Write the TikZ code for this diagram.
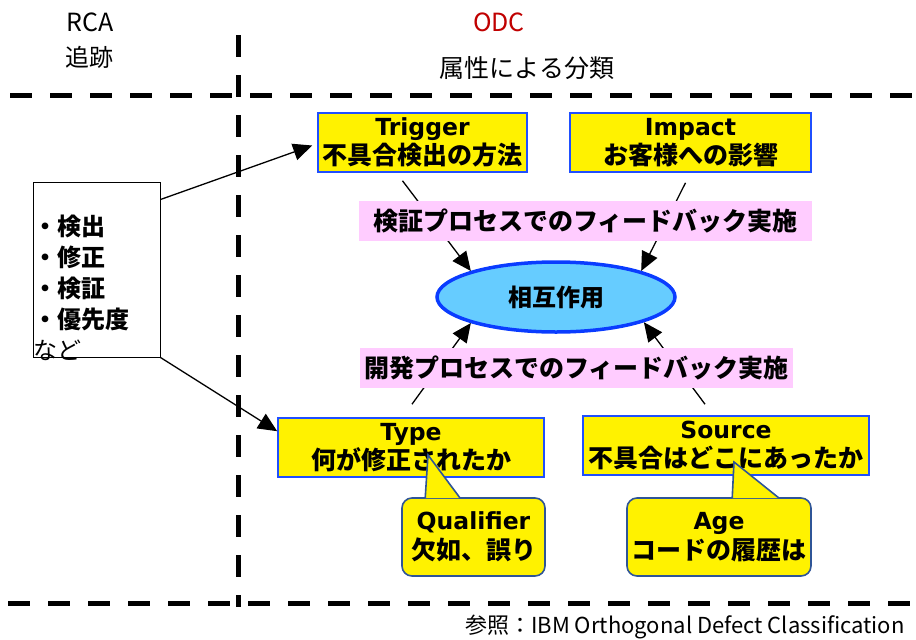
\documentclass[tikz,border=0pt]{standalone}
\usepackage{fontspec}
\setmainfont{Noto Sans CJK JP}
\newfontfamily\lat[Scale=0.94]{DejaVu Sans}
\usepackage{xcolor}
\usetikzlibrary{arrows.meta, shapes.geometric, positioning, calc}
\definecolor{boxblue}{HTML}{1F4FFF}
\definecolor{callblue}{HTML}{2F5597}
\definecolor{pinkbg}{HTML}{FFCCFF}
\definecolor{ellfill}{HTML}{66CCFF}
\definecolor{ellline}{HTML}{0A3CFF}
\definecolor{odcred}{HTML}{C00000}
\newcommand{\fs}[1]{\fontsize{#1}{#1}\selectfont}

\begin{document}
\begin{tikzpicture}[x=1pt, y=-1pt, >={Triangle[length=19pt, width=17pt]},
  attr/.style={draw=boxblue, line width=1.6pt, fill=yellow, align=center, inner sep=0pt,
    minimum height=59pt, font=\bfseries\fontsize{25}{29}\selectfont},
  pk/.style={fill=pinkbg, inner sep=0pt, minimum height=40pt, font=\bfseries\fs{25}},
  cb/.style={draw=callblue, line width=1.6pt, fill=yellow, rounded corners=10pt, align=center,
    inner sep=0pt, minimum height=78pt, font=\bfseries\fontsize{25}{30}\selectfont},
  dl/.style={line width=5pt, dash pattern=on 22pt off 18pt},
  ar/.style={->, line width=1.3pt}]
  \useasboundingbox (0,0) rectangle (916,640);

  \node[font=\fs{25}] (rca) at (90,22) {RCA};
  \node[font=\fs{24}] (trace) at (89,57) {追跡};
  \node[font=\fs{25}, text=odcred] (odc) at (499,22) {ODC};
  \node[font=\fs{25}] (cls) at (527,68) {属性による分類};

  \draw[dl] (10,95) -- (916,95);
  \draw[dl] (8,603) -- (916,603);
  \draw[dl] (238,35) -- (238,607);

  \node[attr, minimum width=209pt] (trig) at (422.5,142.5) {{\lat Trigger}\\不具合検出の方法};
  \node[attr, minimum width=241pt] (imp) at (690.5,142.5) {{\lat Impact}\\お客様への影響};
  \node[attr, minimum width=266pt] (typ) at (411,447.5) {{\lat Type}\\何が修正されたか};
  \node[attr, minimum width=286pt] (src) at (726,445.5) {{\lat Source}\\不具合はどこにあったか};
  \node[ellipse, draw=ellline, line width=3.5pt, fill=ellfill, minimum width=238pt,
    minimum height=70pt, font=\bfseries\fs{24}] (ell) at (556,297) {相互作用};

  \node[draw, line width=1pt, minimum width=127pt, minimum height=175pt, inner sep=0pt] (lb) at (96.5,269.5) {};
  \node[anchor=west, align=left, inner sep=0pt, font=\fontsize{24}{31}\selectfont] (lbt) at (33,288)
    {\textbf{・検出}\\\textbf{・修正}\\\textbf{・検証}\\\textbf{・優先度}\\など};

  \draw[ar] ($(lb.north east)+(0,18)$) -- ($(trig.west)+(-5,3)$);
  \draw[ar] (lb.south east) -- ($(typ.north west)+(0,14)$);
  \draw[ar] ($(trig.south)+(-20,8)$) -- (ell.163);
  \draw[ar] ($(imp.south)+(-5,10)$) -- (ell.17);
  \draw[ar] ($(typ.north)+(1,-13)$) -- (ell.197);
  \draw[ar] ($(src.north)+(-21,-11)$) -- (ell.344);

  \node[pk, minimum width=453pt] (vfb) at (585.5,221) {検証プロセスでのフィードバック実施};
  \node[pk, minimum width=433pt] (dfb) at (576.5,368) {開発プロセスでのフィードバック実施};

  \node[cb, minimum width=143pt] (qual) at (473.5,537) {{\lat Qualifier}\\欠如、誤り};
  \node[cb, minimum width=184pt] (age) at (719,537) {{\lat Age}\\コードの履歴は};
  \coordinate (qtip) at (428,455);
  \coordinate (atip) at (734,462);
  \filldraw[fill=yellow, draw=callblue, line width=1.6pt] ($(qual.north west)+(24,1)$) -- (qtip) -- ($(qual.north west)+(59,1)$);
  \filldraw[fill=yellow, draw=callblue, line width=1.6pt] ($(age.north west)+(106,1)$) -- (atip) -- ($(age.north west)+(153,1)$);

  \node[anchor=east, font=\fs{22}] (ref) at (908,627) {参照：IBM Orthogonal Defect Classification};
\end{tikzpicture}
\end{document}
